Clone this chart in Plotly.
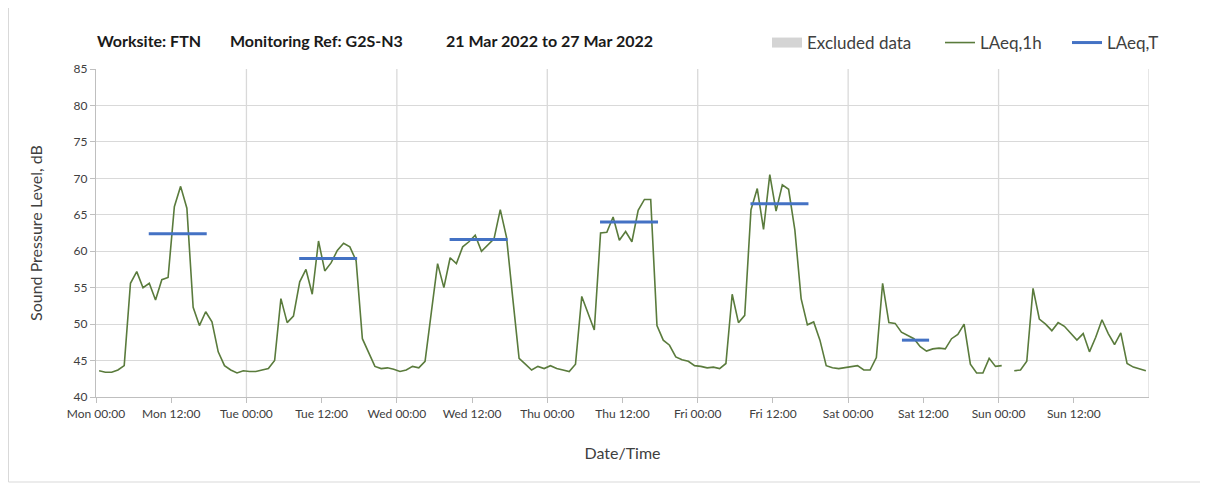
import pandas as pd
import plotly.graph_objects as go

# ---- data ----
start_time = "2022-03-21 00:30"
laeq_1h = [
    43.6, 43.4, 43.4, 43.7, 44.3, 55.6, 57.2, 55.0, 55.6, 53.3, 56.1, 56.4,
    66.1, 68.9, 65.9, 52.3, 49.8, 51.7, 50.3, 46.2, 44.3, 43.7, 43.3, 43.6,
    43.5, 43.5, 43.7, 43.9, 45.0, 53.5, 50.2, 51.1, 55.8, 57.5, 54.1, 61.4,
    57.3, 58.4, 60.1, 61.1, 60.6, 58.7, 48.0, 46.2, 44.2, 43.9, 44.0, 43.8,
    43.5, 43.7, 44.2, 44.0, 44.9, 51.6, 58.3, 55.0, 59.1, 58.3, 60.6, 61.3,
    62.2, 60.0, 60.8, 61.7, 65.7, 61.9, 53.5, 45.3, 44.5, 43.7, 44.2, 43.9,
    44.3, 43.9, 43.7, 43.5, 44.5, 53.8, 51.5, 49.2, 62.5, 62.6, 64.7, 61.5,
    62.7, 61.3, 65.6, 67.1, 67.1, 49.8, 47.8, 47.1, 45.5, 45.1, 44.9, 44.3,
    44.2, 44.0, 44.1, 43.9, 44.6, 54.1, 50.2, 51.2, 65.7, 68.6, 63.0, 70.5,
    65.5, 69.1, 68.5, 62.9, 53.5, 49.9, 50.3, 47.8, 44.3, 44.0, 43.9, 44.0,
    44.2, 44.3, 43.7, 43.7, 45.4, 55.6, 50.2, 50.1, 48.9, 48.5, 48.0, 46.9,
    46.3, 46.6, 46.7, 46.6, 48.0, 48.6, 50.0, 44.5, 43.3, 43.3, 45.3, 44.2,
    44.3, None, 43.6, 43.7, 44.9, 54.9, 50.7, 50.0, 49.1, 50.2, 49.7, 48.7,
    47.8, 48.7, 46.2, 48.2, 50.6, 48.7, 47.2, 48.8, 44.6, 44.1, 43.9, 43.6,
]

laeq_t_days = ["2022-03-21", "2022-03-22", "2022-03-23", "2022-03-24", "2022-03-25", "2022-03-26"]
laeq_t_start = ["08:25", "08:25", "08:25", "08:25", "08:25", "08:35"]
laeq_t_end = ["17:40", "17:40", "17:40", "17:40", "17:40", "12:55"]
laeq_t_values = [62.4, 59.0, 61.6, 64.0, 66.5, 47.8]

week_start = "2022-03-21 00:00"
week_end = "2022-03-28 00:00"
y_ticks = [40, 45, 50, 55, 60, 65, 70, 75, 80, 85]

title_parts = ["Worksite: FTN", "Monitoring Ref: G2S-N3", "21 Mar 2022 to 27 Mar 2022"]

# ---- build ----
times = pd.date_range(start_time, periods=len(laeq_1h), freq="h")
x_ticks = pd.date_range(week_start, periods=14, freq="12h")

tx, ty = [], []
for d, s, e, v in zip(laeq_t_days, laeq_t_start, laeq_t_end, laeq_t_values):
    tx += [pd.Timestamp(f"{d} {s}"), pd.Timestamp(f"{d} {e}"), None]
    ty += [v, v, None]

FONT = "Lato"
TXT = "#404040"

W, H = 1208, 486
OFF = 8  # page body margin
L, T = 96 - OFF, 69 - OFF
R = W - (1149 - OFF)
B = H - (397 - OFF)
pw, ph = W - L - R, H - T - B


def px_x(px):  # page pixel -> paper
    return (px - OFF - L) / pw


def px_y(py):
    return (H - B - (py - OFF)) / ph


fig = go.Figure()
fig.add_trace(go.Scatter(x=[None], y=[None], mode="lines", name="Excluded data",
                         line=dict(color="#D4D4D4", width=11), legend="legend"))
fig.add_trace(go.Scatter(x=times, y=laeq_1h, mode="lines", name="LAeq,1h",
                         line=dict(color="#5A7B3C", width=1.6), connectgaps=False,
                         legend="legend2"))
fig.add_trace(go.Scatter(x=tx, y=ty, mode="lines", name="LAeq,T",
                         line=dict(color="#4472C4", width=3), connectgaps=False,
                         legend="legend3"))

# day gridlines
for d in pd.date_range(week_start, week_end, freq="D")[1:]:
    fig.add_shape(type="line", xref="x", yref="paper", x0=d, x1=d, y0=0, y1=1,
                  line=dict(color="#D9D9D9", width=1.3), layer="below")

# outer border
fig.add_shape(type="rect", xref="paper", yref="paper",
              x0=px_x(OFF + 0.5), x1=px_x(1204), y0=px_y(482), y1=px_y(-5),
              line=dict(color="#D9D9D9", width=1), layer="below")

title_x = [95, 228, 444]
for t, xp in zip(title_parts, title_x):
    fig.add_annotation(text=f"<b>{t}</b>", xref="paper", yref="paper",
                       x=px_x(xp), y=px_y(41), xanchor="left", yanchor="middle",
                       showarrow=False, font=dict(family=FONT, size=16, color="#1a1a1a"))

leg_common = dict(orientation="h", yanchor="middle", xanchor="left", y=px_y(43),
                  font=dict(family=FONT, size=17, color=TXT), bgcolor="rgba(0,0,0,0)")

fig.update_layout(
    width=W, height=H,
    margin=dict(l=L, r=R, t=T, b=B, autoexpand=False),
    paper_bgcolor="white", plot_bgcolor="white",
    font=dict(family=FONT, color=TXT),
    showlegend=True,
    legend=dict(x=px_x(767), **leg_common),
    legend2=dict(x=px_x(940), **leg_common),
    legend3=dict(x=px_x(1067), **leg_common),
    xaxis=dict(
        type="date", range=[week_start, week_end],
        tickvals=x_ticks, tickformat="%a %H:%M",
        showgrid=False, zeroline=False,
        showline=True, linecolor="#BFBFBF", linewidth=1.3,
        ticks="outside", ticklen=5, tickcolor="#BFBFBF",
        tickfont=dict(family=FONT, size=12, color=TXT),
        title=dict(text="Date/Time", font=dict(family=FONT, size=16, color=TXT), standoff=28),
    ),
    yaxis=dict(
        range=[40, 85], tickvals=y_ticks,
        showgrid=True, gridcolor="#D9D9D9", gridwidth=1.3, zeroline=False,
        showline=True, linecolor="#BFBFBF", linewidth=1.3,
        ticks="outside", ticklen=5, tickcolor="#BFBFBF",
        tickfont=dict(family=FONT, size=12, color=TXT),
        title=dict(text="Sound Pressure Level, dB", font=dict(family=FONT, size=16, color=TXT), standoff=26),
    ),
)

fig.write_html("out.html")
